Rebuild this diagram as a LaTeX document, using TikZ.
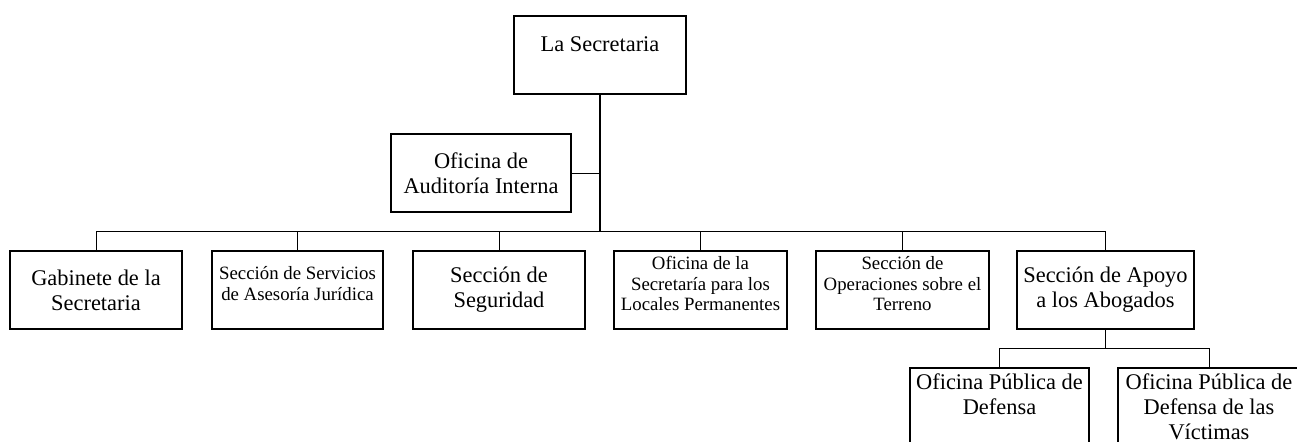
\documentclass[tikz,border=0pt]{standalone}
\usepackage{fontspec}
\setmainfont{Liberation Serif}
\usetikzlibrary{positioning}
\tikzset{
  unit box/.style={
    draw, line width=1pt, align=center, inner sep=1pt,
    minimum height=39pt, font=\fontsize{11.2}{12.5}\selectfont
  },
  small unit box/.style={
    unit box, font=\fontsize{9.4}{10.4}\selectfont,
    execute at end node={\rule[-6.5pt]{0pt}{6.5pt}}
  },
  trunk/.style={line width=0.85pt},
  link/.style={line width=0.5pt}
}

\begin{document}
\begin{tikzpicture}[x=0.5pt, y=-0.5pt]
    \useasboundingbox (0,0) rectangle (1297,441);
    \draw (600,55) node[unit box, minimum width=86pt, minimum height=0pt, inner sep=0pt, text height=17.85pt, text depth=21.15pt] (secretaria) {La Secretaria};
    \draw (481,173) node[unit box, minimum width=90pt] (auditoria) {Oficina de\\Auditoría Interna};
    \draw (96,290) node[unit box, minimum width=86pt] (gabinete) {Gabinete de la\\Secretaria};
    \draw (297.5,290) node[small unit box, minimum width=85.5pt] (juridica) {Sección de Servicios\\de Asesoría Jurídica};
    \draw (499,290) node[unit box, minimum width=86pt] (seguridad) {Sección de\\Seguridad};
    \draw (700.5,290) node[small unit box, minimum width=86.5pt] (locales) {Oficina de la\\Secretaría para los\\Locales Permanentes};
    \draw (902.5,290) node[small unit box, minimum width=86.5pt] (terreno) {Sección de\\Operaciones sobre el\\Terreno};
    \draw (1105.5,290) node[unit box, minimum width=88.5pt] (abogados) {Sección de Apoyo\\a los Abogados};
    \draw (999.5,407) node[unit box, minimum width=89.5pt] (defensa) {Oficina Pública de\\Defensa\\\mbox{}};
    \draw (1209,407) node[unit box, minimum width=91pt] (victimas) {Oficina Pública de\\Defensa de las\\Víctimas};
    \coordinate (bus) at (600,231);
    \coordinate (subbus) at (1105.5,348);
    \draw[trunk] (secretaria) -- (bus);
    \draw[link] (auditoria) -- (auditoria -| secretaria);
    \foreach \n in {gabinete,juridica,seguridad,locales,terreno,abogados}
        \draw[link] (\n) |- (bus);
    \draw[trunk] (abogados) -- (subbus);
    \foreach \n in {defensa,victimas}
        \draw[link] (\n) |- (subbus);
\end{tikzpicture}
\end{document}
